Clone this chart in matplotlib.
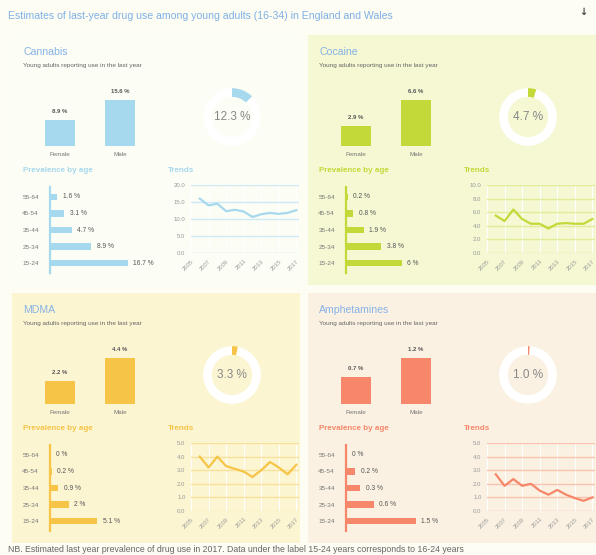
import matplotlib
matplotlib.use("Agg")
import matplotlib.pyplot as plt
from matplotlib.patches import Rectangle

plt.rcParams["font.family"] = ["Liberation Sans", "DejaVu Sans"]

W, H = 596, 555

# ---- data ----
drugs = ["Cannabis", "Cocaine", "MDMA", "Amphetamines"]
gender_labels = ["Female", "Male"]
cannabis_gender = [8.9, 15.6]
cocaine_gender = [2.9, 6.6]
mdma_gender = [2.2, 4.4]
amph_gender = [0.7, 1.2]

overall = [12.3, 4.7, 3.3, 1.0]

age_groups = ["55-64", "45-54", "35-44", "25-34", "15-24"]
cannabis_age = [1.6, 3.1, 4.7, 8.9, 16.7]
cocaine_age = [0.2, 0.8, 1.9, 3.8, 6]
mdma_age = [0, 0.2, 0.9, 2, 5.1]
amph_age = [0, 0.2, 0.3, 0.6, 1.5]

trend_years = [2006, 2007, 2008, 2009, 2010, 2011, 2012, 2013, 2014, 2015, 2016, 2017]
cannabis_trend = [16.0, 14.0, 14.5, 12.3, 12.7, 12.2, 10.6, 11.4, 11.8, 11.5, 11.8, 12.6]
cocaine_trend = [5.5, 4.7, 6.4, 5.0, 4.3, 4.3, 3.6, 4.3, 4.4, 4.3, 4.3, 5.0]
mdma_trend = [4.0, 3.2, 4.0, 3.3, 3.1, 2.9, 2.5, 3.0, 3.6, 3.2, 2.7, 3.4]
amph_trend = [2.7, 1.85, 2.35, 1.85, 2.0, 1.5, 1.2, 1.55, 1.2, 0.95, 0.75, 1.0]

trend_ticks = [2005, 2007, 2009, 2011, 2013, 2015, 2017]

gender_data = [cannabis_gender, cocaine_gender, mdma_gender, amph_gender]
age_data = [cannabis_age, cocaine_age, mdma_age, amph_age]
trend_data = [cannabis_trend, cocaine_trend, mdma_trend, amph_trend]

# panel styling
origins = [(12, 35), (308, 35), (12, 293), (308, 293)]
panel_bg = ["#fcfdf4", "#f5f8d2", "#fcf5d2", "#faf1e2"]
colors = ["#a6d8ee", "#c3d93a", "#f6c447", "#f6876a"]
grid_colors = ["#cdebf6", "#e3ec98", "#f9e19c", "#f8c4b0"]
age_xmax = [20, 10, 10, 2]
trend_ymax = [20, 10, 5, 5]
trend_step = [5, 2, 1, 1]

name_color = "#86b2e6"
text_gray = "#777777"

fig = plt.figure(figsize=(W / 100, H / 100), dpi=100)
fig.patch.set_facecolor("#fdfdf3")


def ax_px(x0, y0, x1, y1):
    return fig.add_axes([x0 / W, 1 - y1 / H, (x1 - x0) / W, (y1 - y0) / H])


def fx(x):
    return x / W


def fy(y):
    return 1 - y / H


fig.text(fx(8), fy(16), "Estimates of last-year drug use among young adults (16-34) in England and Wales",
         fontsize=7.6, color="#7fb0e6", va="center")
# small download icon in the corner
fig.text(fx(583), fy(12), "\u2193", fontsize=7, color="#444444", ha="center", va="center",
         fontweight="bold", family=["DejaVu Sans"])

for i, name in enumerate(drugs):
    px, py = origins[i]
    c = colors[i]
    fig.add_artist(Rectangle((fx(px), fy(py + 250)), 288 / W, 250 / H,
                             transform=fig.transFigure, facecolor=panel_bg[i],
                             edgecolor="none", zorder=0))

    fig.text(fx(px + 11), fy(py + 17), name, fontsize=7.6, color=name_color, va="center")
    fig.text(fx(px + 11), fy(py + 30), "Young adults reporting use in the last year",
             fontsize=4.6, color="#666666", va="center")

    # gender bars
    g = gender_data[i]
    gax = ax_px(px + 15, py + 62, px + 135, py + 111)
    gax.bar([0, 1], g, width=0.5, color=c)
    gax.set_xlim(-0.55, 1.45)
    gax.set_ylim(0, max(g) * 1.06)
    gax.axis("off")
    for k, v in enumerate(g):
        gax.annotate(f"{v:.1f} %", (k, v), xytext=(0, 4), textcoords="offset points",
                     ha="center", va="bottom", fontsize=4.3, color="#555555", fontweight="bold")
        gax.annotate(gender_labels[k], (k, 0), xytext=(0, -4), textcoords="offset points",
                     ha="center", va="top", fontsize=4.5, color=text_gray)

    # donut
    cx, cy = px + 220, py + 82
    dax = ax_px(cx - 36, cy - 36, cx + 36, cy + 36)
    dax.pie([overall[i], 100 - overall[i]], colors=[c, "white"], startangle=90,
            counterclock=False, wedgeprops=dict(width=0.3, edgecolor="none"))
    dax.set_aspect("equal")
    dax.text(0, 0, f"{overall[i]:.1f} %", ha="center", va="center", fontsize=8.5, color="#888888")

    # prevalence by age
    fig.text(fx(px + 11), fy(py + 135), "Prevalence by age", fontsize=5.8, color=c,
             fontweight="bold", va="center")
    a = age_data[i]
    aax = ax_px(px + 38, py + 152, px + 131, py + 238)
    yy = list(range(len(age_groups)))[::-1]
    aax.barh(yy, a, height=0.38, color=c)
    aax.set_xlim(0, age_xmax[i])
    aax.set_ylim(-0.6, 4.6)
    aax.set_facecolor("none")
    for s in ["top", "right", "bottom"]:
        aax.spines[s].set_visible(False)
    aax.spines["left"].set_color(c)
    aax.spines["left"].set_linewidth(1.6)
    aax.set_xticks([])
    aax.set_yticks(yy)
    aax.set_yticklabels(age_groups, fontsize=4.6, color=text_gray)
    aax.tick_params(axis="y", length=0, pad=8)
    for y, v in zip(yy, a):
        aax.annotate(f"{v:g} %", (v, y), xytext=(4, 0), textcoords="offset points",
                     ha="left", va="center", fontsize=4.8, color="#555555")

    # trends
    fig.text(fx(px + 156), fy(py + 135), "Trends", fontsize=5.8, color=c,
             fontweight="bold", va="center")
    t = trend_data[i]
    tax = ax_px(px + 179, py + 150, px + 287, py + 218)
    tax.set_facecolor("none")
    tax.plot(trend_years, t, color=c, linewidth=1.6, zorder=3)
    tax.set_xlim(2005, 2017.3)
    tax.set_ylim(0, trend_ymax[i])
    yt = [k * trend_step[i] for k in range(int(trend_ymax[i] / trend_step[i]) + 1)]
    tax.set_yticks(yt)
    tax.set_yticklabels([f"{v:.1f}" for v in yt], fontsize=4.3, color="#999999")
    tax.set_xticks(trend_ticks)
    tax.set_xticklabels([str(v) for v in trend_ticks], fontsize=4.2, color="#999999",
                        rotation=45, ha="right", rotation_mode="anchor")
    tax.tick_params(length=0, pad=4)
    tax.grid(axis="y", color=grid_colors[i], linewidth=1.0)
    tax.grid(axis="x", color="white", linewidth=0.8)
    for s in tax.spines.values():
        s.set_visible(False)

fig.text(fx(8), fy(549),
         "NB. Estimated last year prevalence of drug use in 2017. Data under the label 15-24 years corresponds to 16-24 years",
         fontsize=6.3, color="#666666", va="center")

fig.savefig("out.png", dpi=100, facecolor=fig.get_facecolor())
